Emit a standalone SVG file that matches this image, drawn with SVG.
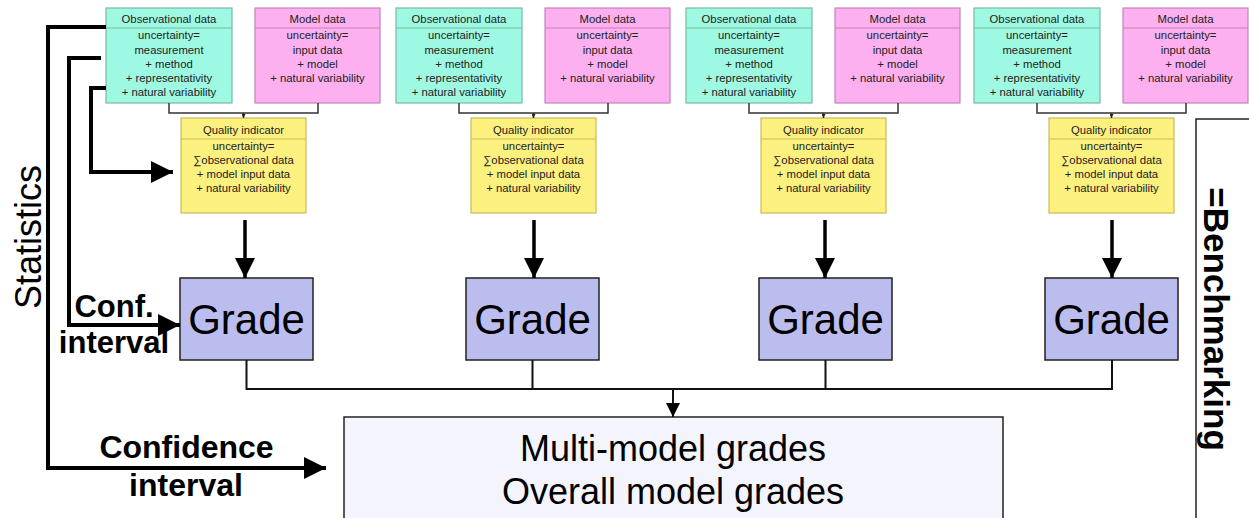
<svg xmlns="http://www.w3.org/2000/svg" width="1249" height="518" viewBox="0 0 1249 518">
<style>
text{font-family:"Liberation Sans",Arial,sans-serif;fill:#000}
.s{font-size:11.3px;text-anchor:middle;fill:#222}
.obs{fill:#9ef9e2;stroke:#7ab8aa;stroke-width:1.2}
.mod{fill:#fcb0ef;stroke:#c483b8;stroke-width:1.2}
.qi{fill:#fcf07f;stroke:#c8bb5c;stroke-width:1.2}
.hl{stroke-width:1}
.grade{fill:#bbbdef;stroke:#222;stroke-width:1.5}
.gt{font-size:42px;text-anchor:middle}
.thin{fill:none;stroke:#111;stroke-width:2}
.thick{fill:none;stroke:#000;stroke-width:4}
.med{fill:none;stroke:#000;stroke-width:3.5}
.b{font-weight:bold}
</style>
<defs>
<marker id="sm" viewBox="0 0 10 10" refX="10" refY="5" markerWidth="4" markerHeight="4" orient="auto" markerUnits="userSpaceOnUse"><path d="M0,0L10,5L0,10z" fill="#222"/></marker>
<marker id="mid" viewBox="0 0 10 10" refX="10" refY="5" markerWidth="21" markerHeight="20" orient="auto" markerUnits="userSpaceOnUse"><path d="M0,0L10,5L0,10z" fill="#000"/></marker>
<marker id="low" viewBox="0 0 10 10" refX="10" refY="5" markerWidth="15" markerHeight="14" orient="auto" markerUnits="userSpaceOnUse"><path d="M0,0L10,5L0,10z" fill="#000"/></marker>
<marker id="big" viewBox="0 0 10 10" refX="10" refY="5" markerWidth="22" markerHeight="22" orient="auto" markerUnits="userSpaceOnUse"><path d="M0,0L10,5L0,10z" fill="#000"/></marker>
<g id="trio">
<rect class="obs" x="106" y="8" width="126" height="95"/>
<line class="hl" x1="106" y1="28" x2="232" y2="28" stroke="#7ab8aa"/>
<text class="s" x="169" y="23">Observational data</text>
<text class="s" x="169" y="39">uncertainty=</text>
<text class="s" x="169" y="53.5">measurement</text>
<text class="s" x="169" y="68">+ method</text>
<text class="s" x="169" y="82">+ representativity</text>
<text class="s" x="169" y="96">+ natural variability</text>
<rect class="mod" x="255" y="8" width="125" height="95"/>
<line class="hl" x1="255" y1="28" x2="380" y2="28" stroke="#c483b8"/>
<text class="s" x="317.5" y="23">Model data</text>
<text class="s" x="317.5" y="39">uncertainty=</text>
<text class="s" x="317.5" y="53.5">input data</text>
<text class="s" x="317.5" y="68">+ model</text>
<text class="s" x="317.5" y="82">+ natural variability</text>
<rect class="qi" x="181" y="118" width="125" height="95"/>
<line class="hl" x1="181" y1="139" x2="306" y2="139" stroke="#c8bb5c"/>
<text class="s" x="243.5" y="134">Quality indicator</text>
<text class="s" x="243.5" y="150">uncertainty=</text>
<text class="s" x="243.5" y="164">∑observational data</text>
<text class="s" x="243.5" y="178">+ model input data</text>
<text class="s" x="243.5" y="192">+ natural variability</text>
<path d="M169,103V113H318V103" fill="none" stroke="#333" stroke-width="1.5"/>
<path d="M243.5,113V118" fill="none" stroke="#333" stroke-width="1.5" marker-end="url(#sm)"/>
</g>
</defs>

<g id="group1"><use href="#trio"/></g>
<g id="group2"><use href="#trio" transform="translate(290,0)"/></g>
<g id="group3"><use href="#trio" transform="translate(580,0)"/></g>
<g id="group4"><use href="#trio" transform="translate(868,0)"/></g>

<g id="grade1"><rect class="grade" x="180" y="278" width="133" height="82"/><text class="gt" x="246.5" y="334">Grade</text></g>
<g id="grade2"><rect class="grade" x="466" y="278" width="133" height="82"/><text class="gt" x="532.5" y="334">Grade</text></g>
<g id="grade3"><rect class="grade" x="759" y="278" width="133" height="82"/><text class="gt" x="825.5" y="334">Grade</text></g>
<g id="grade4"><rect class="grade" x="1045" y="278" width="133" height="82"/><text class="gt" x="1111.5" y="334">Grade</text></g>

<g id="overall">
<rect x="344" y="417" width="659" height="110" fill="#f3f4fc" stroke="#222" stroke-width="1.5"/>
<text x="673" y="461" font-size="36" text-anchor="middle">Multi-model grades</text>
<text x="673" y="504" font-size="36" text-anchor="middle">Overall model grades</text>
</g>

<g id="benchmarking">
<path d="M1196,518V119H1249" fill="none" stroke="#222" stroke-width="1.5"/>
<text x="1216" y="319" font-size="35" class="b" text-anchor="middle" dominant-baseline="central" transform="rotate(90 1216 319)">=Benchmarking</text>
</g>

<g id="labels">
<text x="28" y="237" font-size="36" text-anchor="middle" dominant-baseline="central" transform="rotate(-90 28 237)">Statistics</text>
<text x="114" y="317" font-size="31" class="b" text-anchor="middle">Conf.</text>
<text x="114" y="353" font-size="31" class="b" text-anchor="middle">interval</text>
<text x="186.5" y="458" font-size="32" class="b" text-anchor="middle">Confidence</text>
<text x="186" y="496" font-size="32" class="b" text-anchor="middle">interval</text>
</g>

<g id="connectors">
<path class="med" d="M245,220V278" marker-end="url(#mid)"/>
<path class="med" d="M534,220V278" marker-end="url(#mid)"/>
<path class="med" d="M825,220V278" marker-end="url(#mid)"/>
<path class="med" d="M1112,220V278" marker-end="url(#mid)"/>
<path class="thin" d="M246.5,360V389M532.5,360V389M825.5,360V389M1112,360V389M245.5,389H1113"/>
<path class="thin" d="M673,389V417" marker-end="url(#low)"/>
<path class="thick" d="M106,27H48V468H326" marker-end="url(#big)"/>
<path class="thick" d="M101,58H69V325H180" marker-end="url(#big)"/>
<path class="thick" d="M106,88H91V172H173" marker-end="url(#big)"/>
</g>
</svg>
